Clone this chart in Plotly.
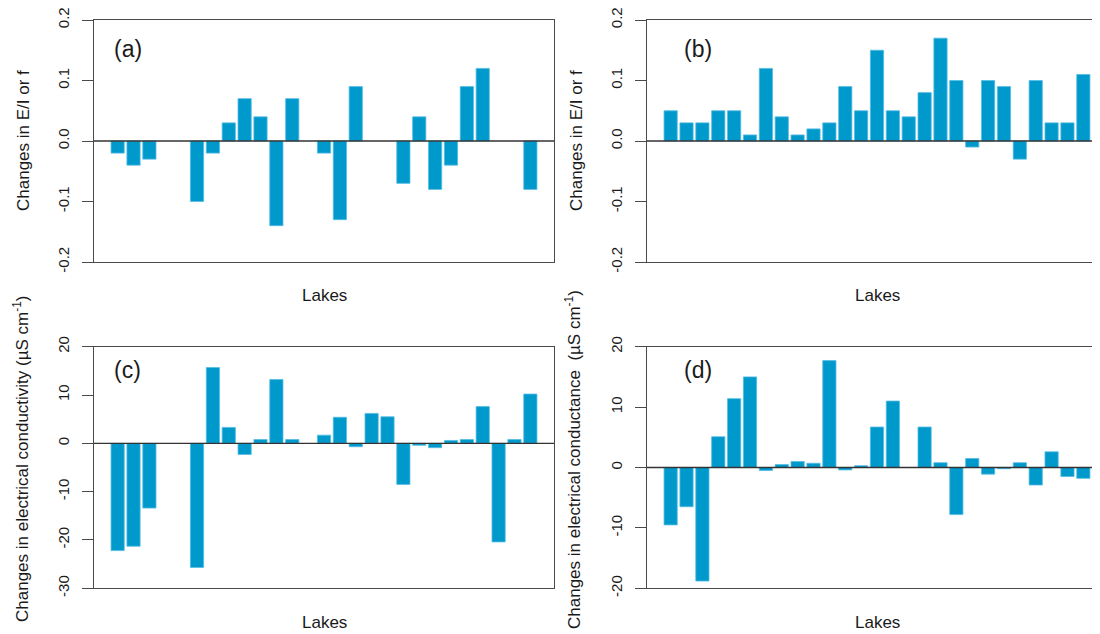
import plotly.graph_objects as go

lakes = [f"L{i}" for i in range(1, 28)]

ei_change_a = [-0.02, -0.04, -0.03, None, None, -0.10, -0.02, 0.03, 0.07, 0.04, -0.14, 0.07, None,
               -0.02, -0.13, 0.09, None, None, -0.07, 0.04, -0.08, -0.04, 0.09, 0.12, None, None, -0.08]
ei_change_b = [0.05, 0.03, 0.03, 0.05, 0.05, 0.01, 0.12, 0.04, 0.01, 0.02, 0.03, 0.09, 0.05, 0.15,
               0.05, 0.04, 0.08, 0.17, 0.10, -0.01, 0.10, 0.09, -0.03, 0.10, 0.03, 0.03, 0.11]
ec_change_c = [-22.2, -21.3, -13.4, None, None, -25.7, 15.7, 3.3, -2.3, 0.8, 13.2, 0.8, None,
               1.7, 5.4, -0.7, 6.2, 5.5, -8.5, -0.4, -0.9, 0.6, 0.8, 7.6, -20.4, 0.8, 10.2]
ec_change_d = [-9.5, -6.5, -18.8, 5.1, 11.4, 15.0, -0.5, 0.5, 1.0, 0.7, 17.7, -0.4, 0.3, 6.7, 11.0,
               None, 6.7, 0.8, -7.8, 1.5, -1.1, -0.2, 0.8, -2.9, 2.6, -1.5, -1.8]

ticks_ei = [-0.2, -0.1, 0.0, 0.1, 0.2]
ticklabels_ei = ["-0.2", "-0.1", "0.0", "0.1", "0.2"]
ticks_c = [-30, -20, -10, 0, 10, 20]
ticks_d = [-20, -10, 0, 10, 20]

panel_labels = ["(a)", "(b)", "(c)", "(d)"]
ylab_top = "Changes in E/I or f"
ylab_c = "Changes in electrical conductivity (µS cm<sup>-1</sup>)"
ylab_d = "Changes in electrical conductance  (µS cm<sup>-1</sup>)"
xlab = "Lakes"

# page has an 8px body margin: figure is drawn at (8, 8)
OFF = 8
W, H = 1100 - OFF, 634 - OFF
BAR = "#0099CC"
EDGE = "#55bde3"
LINE = "#4a4a4a"
TXT = "#1a1a1a"
FONT = "Liberation Sans, Arial, sans-serif"

def px(x):
    return (x - OFF) / W

def py(y):
    return 1 - (y - OFF) / H

fig = go.Figure()

panels = [
    (ei_change_a, "x", "y", (94, 554), (20, 262), [-0.2, 0.2], ticks_ei, ticklabels_ei, True, [-1.49, 27.49]),
    (ei_change_b, "x2", "y2", (647, 1100), (20, 262), [-0.2, 0.2], ticks_ei, ticklabels_ei, False, [-1.49, 27.05]),
    (ec_change_c, "x3", "y3", (94, 554), (346.7, 588.3), [-30, 20], ticks_c, [str(t) for t in ticks_c], True, [-1.49, 27.49]),
    (ec_change_d, "x4", "y4", (647, 1100), (346.7, 588.3), [-20, 20], ticks_d, [str(t) for t in ticks_d], False, [-1.49, 27.05]),
]

for i, (vals, xa, ya, xd, yd, yr, tv, tt, mir, xr) in enumerate(panels):
    fig.add_trace(go.Bar(x=lakes, y=vals, xaxis=xa, yaxis=ya,
                         marker=dict(color=BAR, line=dict(color=EDGE, width=0.8)),
                         showlegend=False))
    xkey = "xaxis" if xa == "x" else "xaxis" + xa[1:]
    ykey = "yaxis" if ya == "y" else "yaxis" + ya[1:]
    fig.layout[xkey] = dict(domain=[px(xd[0]), min(1.0, px(xd[1]))], anchor=ya, range=xr,
                            showticklabels=False, ticks="", showgrid=False, zeroline=False,
                            showline=True, linecolor=LINE, linewidth=1.3, mirror=True,
                            fixedrange=True, automargin=False)
    fig.layout[ykey] = dict(domain=[py(yd[1]), py(yd[0])], anchor=xa, range=yr,
                            tickvals=tv, ticktext=tt, tickangle=-90,
                            ticks="outside", ticklen=11, tickcolor=LINE, tickwidth=1.3,
                            ticklabelstandoff=7, ticklabeloverflow="allow",
                            tickfont=dict(size=15, color=TXT, family=FONT),
                            showgrid=False, zeroline=False,
                            showline=True, linecolor=LINE, linewidth=1.3, mirror=mir,
                            fixedrange=True, automargin=False)
    fig.add_shape(type="line", xref=f"{xa} domain", yref=ya, x0=0, x1=1, y0=0, y1=0,
                  line=dict(color="#333333", width=1.3), layer="above")

annots = [
    (panel_labels[0], 127.5, 49, 23, 0),
    (panel_labels[1], 697.5, 49, 23, 0),
    (panel_labels[2], 127.5, 370, 23, 0),
    (panel_labels[3], 697.5, 370, 23, 0),
    (xlab, 324, 295, 17, 0),
    (xlab, 877, 295, 17, 0),
    (xlab, 324, 622, 17, 0),
    (xlab, 877, 622, 17, 0),
    (ylab_top, 23, 141, 17, -90),
    (ylab_top, 576, 141, 17, -90),
    (ylab_c, 21, 459, 17, -90),
    (ylab_d, 573, 460, 17, -90),
]
for text, x, y, size, ang in annots:
    fig.add_annotation(text=text, x=px(x), y=py(y), xref="paper", yref="paper",
                       showarrow=False, textangle=ang, xanchor="center", yanchor="middle",
                       font=dict(size=size, color=TXT, family=FONT))

fig.update_layout(width=W, height=H, margin=dict(l=0, r=0, t=0, b=0, autoexpand=False),
                  paper_bgcolor="white", plot_bgcolor="white",
                  bargap=1/6, font=dict(family=FONT, color=TXT))

fig.write_html("out.html", config={"displayModeBar": False})
